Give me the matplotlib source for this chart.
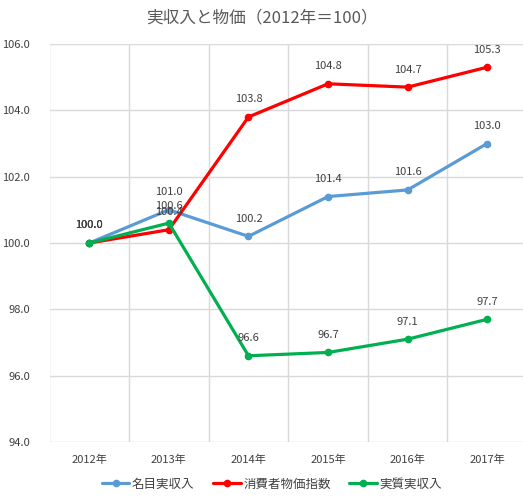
import matplotlib.pyplot as plt
import numpy as np

plt.rcParams['font.family'] = ['Noto Sans CJK JP', 'DejaVu Sans']

years = ['2012年', '2013年', '2014年', '2015年', '2016年', '2017年']
nominal = [100.0, 101.0, 100.2, 101.4, 101.6, 103.0]
cpi = [100.0, 100.4, 103.8, 104.8, 104.7, 105.3]
real = [100.0, 100.6, 96.6, 96.7, 97.1, 97.7]

series = [
    ('名目実収入', nominal, '#5B9BD5'),
    ('消費者物価指数', cpi, '#FF0000'),
    ('実質実収入', real, '#00B050'),
]

fig = plt.figure(figsize=(5.23, 4.97), dpi=100)
W, H = 523, 497
ax = fig.add_axes([49.5 / W, 1 - 442 / H, (527 - 49.5) / W, (442 - 44) / H])

x = np.arange(len(years))
for name, vals, col in series:
    ax.plot(x, vals, color=col, lw=2.3, marker='o', ms=4.5, label=name,
            solid_capstyle='round', zorder=3)
    for xi, v in zip(x, vals):
        ax.annotate(f'{v:.1f}', (xi, v), xytext=(0, 9), textcoords='offset points',
                    ha='center', va='bottom', fontsize=8, color='#404040')

ax.set_xlim(-0.5, len(years) - 0.5)
ax.set_ylim(94, 106)
ax.set_yticks(np.arange(94, 106.1, 2))
ax.set_yticklabels([f'{t:.1f}' for t in np.arange(94, 106.1, 2)])
ax.set_xticks(x)
ax.set_xticklabels(years)
ax.set_xticks(np.arange(-0.5, len(years), 1), minor=True)
ax.grid(True, which='minor', axis='x', color='#D9D9D9', lw=1)
ax.grid(True, which='major', axis='y', color='#D9D9D9', lw=1)
ax.tick_params(which='both', length=0, labelsize=8, colors='#404040')
ax.tick_params(axis='x', pad=9)
ax.tick_params(axis='y', pad=14)
for s in ax.spines.values():
    s.set_visible(False)
ax.set_axisbelow(True)

fig.text(0.5, 1 - 18 / H, '実収入と物価（2012年＝100）', ha='center', va='center',
         fontsize=12, color='#595959')
fig.legend(loc='center', bbox_to_anchor=(0.52, 1 - 484 / H), ncol=3, frameon=False,
           fontsize=9, handlelength=2.2, columnspacing=1.5, handletextpad=0.2,
           labelcolor='#404040')

fig.savefig('out.png', dpi=100)
